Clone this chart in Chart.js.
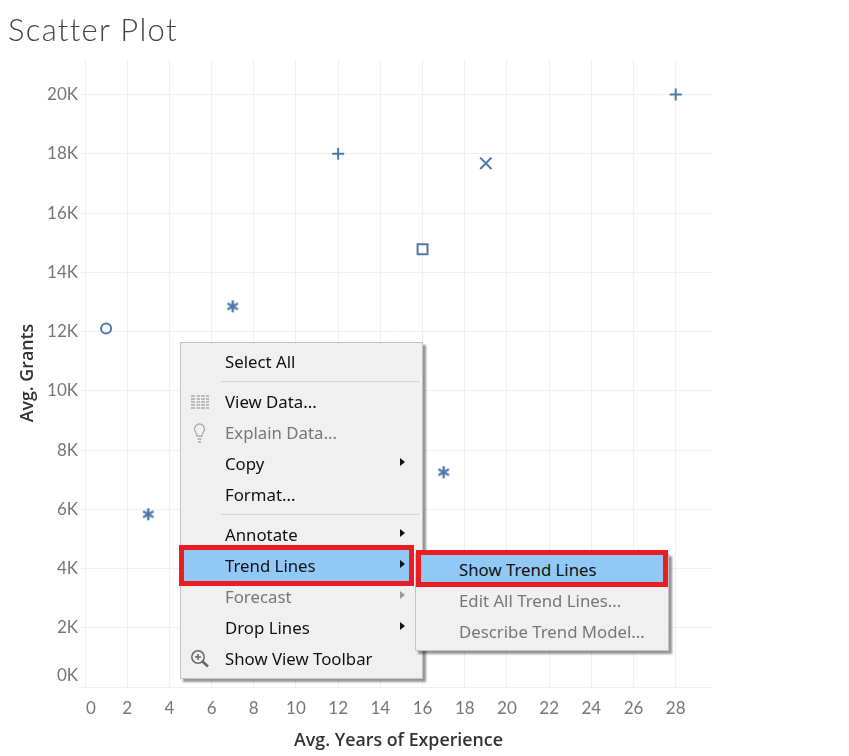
<!DOCTYPE html>
<html>
<head>
<meta charset="utf-8">
<title>Scatter Plot</title>
<script src="https://cdn.jsdelivr.net/npm/chart.js@4"></script>
<style>
    html, body { margin: 0; padding: 0; background: #fff; }
    #wrap { position: relative; width: 849px; height: 756px; overflow: hidden; }
    #title { position: absolute; left: 8px; top: 10px; font: 300 31px Lato, sans-serif; color: #444; letter-spacing: 1.3px; }
    .menu { position: absolute; background: #f0f0f0; border: 1px solid #c4c4c4; box-sizing: border-box; box-shadow: 3px 3px 2px rgba(0,0,0,.42); }
    #menu1 { left: 180px; top: 342px; width: 243px; height: 337px; }
    #menu2 { left: 415px; top: 553px; width: 254px; height: 98px; }
    .item { position: absolute; font: 16.8px "Noto Sans", sans-serif; color: #111; line-height: 24px; white-space: nowrap; transform: translateY(-12px); }
    .off { color: #777; }
    .sep { position: absolute; height: 1px; background: #d4d4d4; }
    .arrow { position: absolute; width: 0; height: 0; border-left: 5px solid #111; border-top: 4.5px solid transparent; border-bottom: 4.5px solid transparent; transform: translateY(-5px); }
    .arrow.off { border-left-color: #999; }
    .hl { position: absolute; background: #90c8f6; border: 5px solid #ed1c24; box-sizing: border-box; }
    svg { position: absolute; }
</style>
</head>
<body>
<div id="wrap">
    <canvas id="scatter" width="849" height="756"></canvas>
    <div id="title">Scatter Plot</div>
    <div class="menu" id="menu1"></div>
    <div class="menu" id="menu2"></div>
    <div id="items"></div>
</div>
<script>
const yearsExperience = [1, 3, 7, 12, 16, 17, 19, 28];
const avgGrants = [12100, 5830, 12850, 18000, 14780, 7250, 17680, 20000];
const markerShapes = ['circle', 'asterisk', 'asterisk', 'cross', 'rect', 'asterisk', 'crossRot', 'cross'];
const xTicks = [0, 2, 4, 6, 8, 10, 12, 14, 16, 18, 20, 22, 24, 26, 28];
const yTicks = [0, 2000, 4000, 6000, 8000, 10000, 12000, 14000, 16000, 18000, 20000];
const xTitle = 'Avg. Years of Experience';
const yTitle = 'Avg. Grants';

const menuItems = ['Select All', 'View Data...', 'Explain Data...', 'Copy', 'Format...', 'Annotate', 'Trend Lines', 'Forecast', 'Drop Lines', 'Show View Toolbar'];
const submenuItems = ['Show Trend Lines', 'Edit All Trend Lines...', 'Describe Trend Model...'];

const markColor = '#4e79a7';
const gridColor = '#f0f0f0';
const xMax = 29.72;
const yMax = 21200;

// chart.js star has 8 arms, the picture has 6
function asteriskSprite() {
    const c = document.createElement('canvas');
    c.width = 14;
    c.height = 14;
    const g = c.getContext('2d');
    g.strokeStyle = markColor;
    g.lineWidth = 2.4;
    g.translate(7, 7);
    for (let i = 0; i < 3; i++) {
        g.beginPath();
        g.moveTo(0, -6);
        g.lineTo(0, 6);
        g.stroke();
        g.rotate(Math.PI / 3);
    }
    return c;
}

const sprite = asteriskSprite();
const radii = { circle: 5, asterisk: 6, cross: 6, rect: 7, crossRot: 8 };

new Chart(document.getElementById('scatter'), {
    type: 'scatter',
    data: {
        datasets: [{
            data: yearsExperience.map((x, i) => ({ x: x, y: avgGrants[i] })),
            pointStyle: markerShapes.map(s => s === 'asterisk' ? sprite : s),
            pointRadius: markerShapes.map(s => radii[s]),
            pointBorderColor: markColor,
            pointBackgroundColor: 'transparent',
            pointBorderWidth: 2
        }]
    },
    options: {
        responsive: false,
        animation: false,
        layout: { padding: { top: 59, right: 137, left: 0, bottom: 0 } },
        plugins: { legend: { display: false }, tooltip: { enabled: false } },
        scales: {
            x: {
                type: 'linear',
                min: 0,
                max: xMax,
                afterBuildTicks: axis => {
                    // extra empty tick at the edge so "inner" only moves the 0 label
                    axis.ticks = xTicks.concat([xMax]).map(v => ({ value: v }));
                },
                afterFit: axis => { axis.height = 69; },
                grid: {
                    color: ctx => ctx.tick && ctx.tick.value === xMax ? 'transparent' : gridColor,
                    tickLength: 2
                },
                border: { display: false },
                ticks: {
                    align: 'inner',
                    padding: 9,
                    maxRotation: 0,
                    autoSkip: false,
                    color: '#777',
                    font: { family: 'Lato', size: 17 },
                    callback: v => v === xMax ? '' : (v === 0 ? '\u200a0' : v)
                },
                title: {
                    display: true,
                    text: xTitle,
                    color: '#333',
                    font: { family: 'Open Sans', size: 17.8, weight: '600' },
                    padding: { top: 0, bottom: 4 }
                }
            },
            y: {
                type: 'linear',
                min: 0,
                max: yMax,
                afterBuildTicks: axis => {
                    axis.ticks = yTicks.concat([yMax]).map(v => ({ value: v }));
                },
                afterFit: axis => { axis.width = 85; },
                grid: {
                    color: ctx => ctx.tick && ctx.tick.value === yMax ? 'transparent' : gridColor,
                    tickLength: 5
                },
                border: { display: false },
                ticks: {
                    padding: 2,
                    autoSkip: false,
                    color: '#777',
                    font: { family: 'Lato', size: 17, lineHeight: 1.4 },
                    // the empty second line lifts 0K off the bottom edge
                    callback: v => v === yMax ? '' : (v === 0 ? ['0K', ''] : (v / 1000) + 'K')
                },
                title: {
                    display: true,
                    text: yTitle,
                    color: '#333',
                    font: { family: 'Open Sans', size: 17.8, weight: '600' },
                    padding: { top: 17, bottom: 0 }
                }
            }
        }
    }
});

// context menu on top of the chart
const items = document.getElementById('items');

function addDiv(cls, css, text) {
    const d = document.createElement('div');
    d.className = cls;
    d.style.cssText = css;
    if (text) d.textContent = text;
    items.appendChild(d);
}

const rowY = [362, 402, 433, 464, 495, 535, 566, 597, 628, 659];
const disabled = ['Explain Data...', 'Forecast'];
const withArrow = ['Copy', 'Annotate', 'Trend Lines', 'Forecast', 'Drop Lines'];

addDiv('hl', 'left:179px;top:545px;width:235px;height:41px');
addDiv('hl', 'left:416px;top:550px;width:252px;height:37px');
addDiv('sep', 'left:221px;top:381px;width:198px');
addDiv('sep', 'left:221px;top:514px;width:198px');

menuItems.forEach((label, i) => {
    addDiv('item' + (disabled.includes(label) ? ' off' : ''), `left:225px;top:${rowY[i]}px`, label);
    if (withArrow.includes(label)) {
        addDiv('arrow' + (disabled.includes(label) ? ' off' : ''), `left:400px;top:${rowY[i] - 1}px`);
    }
});
submenuItems.forEach((label, i) => {
    addDiv('item' + (i > 0 ? ' off' : ''), `left:459px;top:${570 + i * 31}px`, label);
});

document.getElementById('items').insertAdjacentHTML('beforeend', `
<svg style="left:190px;top:394px" width="20" height="16" stroke="#aaa" stroke-width="1.3">
    <path d="M1 2H19M1 5H19M1 8H19M1 11H19M1 14H19" stroke-dasharray="4 1"/>
    <path d="M6 1V15" stroke="#f0f0f0" stroke-width="1"/>
</svg>
<svg style="left:192px;top:423px" width="16" height="22" fill="none" stroke="#aaa" stroke-width="1.3">
    <path d="M5 13C5 10 2.500 9 2.500 6A5 5 0 0 1 12.500 6C12.500 9 10 10 10 13Z"/>
    <path d="M5.500 16H9.500M6 19H9"/>
</svg>
<svg style="left:190px;top:649px" width="20" height="20" fill="none" stroke="#666" stroke-width="1.5">
    <circle cx="8" cy="8" r="6.200"/>
    <path d="M5 8H11M8 5V11"/>
    <path d="M12.500 12.500L18 17.500" stroke-width="2.500"/>
</svg>`);
</script>
</body>
</html>
